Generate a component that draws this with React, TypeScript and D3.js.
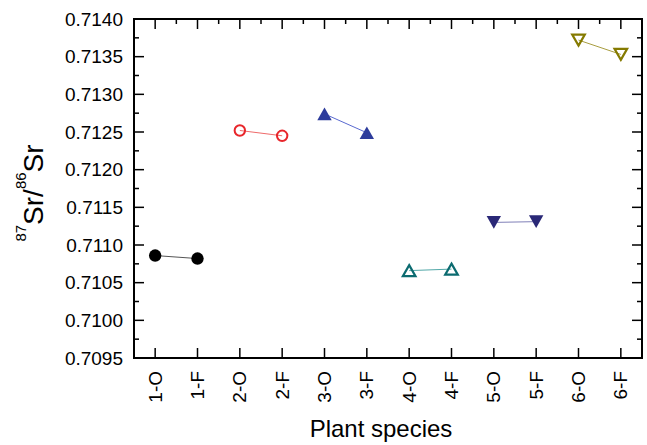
import React from "react";
import * as d3 from "d3";

const categories = ["1-O", "1-F", "2-O", "2-F", "3-O", "3-F", "4-O", "4-F", "5-O", "5-F", "6-O", "6-F"];
const species1 = [0.71086, 0.71082];
const species2 = [0.71252, 0.71245];
const species3 = [0.71274, 0.71249];
const species4 = [0.71066, 0.71068];
const species5 = [0.7113, 0.71131];
const species6 = [0.71372, 0.71353];
const yTicks = [0.7095, 0.71, 0.7105, 0.711, 0.7115, 0.712, 0.7125, 0.713, 0.7135, 0.714];

type Shape = "circle" | "up" | "down";
const seriesDefs: { values: number[]; shape: Shape; filled: boolean; color: string; line: string }[] = [
  { values: species1, shape: "circle", filled: true, color: "#000000", line: "#555555" },
  { values: species2, shape: "circle", filled: false, color: "#e8262b", line: "#ee6a6a" },
  { values: species3, shape: "up", filled: true, color: "#2d3c9c", line: "#5a6ad0" },
  { values: species4, shape: "up", filled: false, color: "#0b6b70", line: "#52a8a8" },
  { values: species5, shape: "down", filled: true, color: "#2a2877", line: "#8080b8" },
  { values: species6, shape: "down", filled: false, color: "#857a00", line: "#a89d40" },
];

const W = 647;
const H = 445;
const L = 134, T = 19, R = 642, B = 358;
const FONT = "Arial, 'Liberation Sans', sans-serif";

export default function App() {
  const x = d3.scaleLinear().domain([0.5, 12.5]).range([L, R]);
  const y = d3.scaleLinear().domain([0.7095, 0.714]).range([B, T]);
  const minorY = d3.range(0, 19).map((i) => 0.7095 + i * 0.00025);
  const catIdx = categories.map((_, i) => i + 1);
  const halfIdx = d3.range(0, 13).map((i) => i + 0.5).filter((v) => v > 0.5 && v < 12.5);
  const line = d3.line<[number, number]>().x((d) => d[0]).y((d) => d[1]);

  const marker = (cx: number, cy: number, shape: Shape, filled: boolean, color: string, key: string) => {
    if (shape === "circle") {
      return filled ? (
        <circle key={key} cx={cx} cy={cy} r={6.2} fill={color} />
      ) : (
        <circle key={key} cx={cx} cy={cy} r={5.2} fill="none" stroke={color} strokeWidth={2} />
      );
    }
    const hw = filled ? 7.2 : 6.3;
    const hh = filled ? 6.3 : 5.5;
    const p = d3.path();
    if (shape === "up") {
      p.moveTo(cx, cy - hh);
      p.lineTo(cx + hw, cy + hh);
      p.lineTo(cx - hw, cy + hh);
    } else {
      p.moveTo(cx, cy + hh);
      p.lineTo(cx + hw, cy - hh);
      p.lineTo(cx - hw, cy - hh);
    }
    p.closePath();
    return filled ? (
      <path key={key} d={p.toString()} fill={color} />
    ) : (
      <path key={key} d={p.toString()} fill="none" stroke={color} strokeWidth={2.2} strokeLinejoin="miter" />
    );
  };

  return (
    <div style={{ position: "absolute", left: 0, top: 0 }}>
      <svg width={W} height={H} style={{ display: "block", background: "#fff" }} fontFamily={FONT}>
        {seriesDefs.map((s, si) => {
          const pts: [number, number][] = s.values.map((v, j) => [x(si * 2 + j + 1), y(v)]);
          return <path key={"l" + si} d={line(pts) || ""} fill="none" stroke={s.line} strokeWidth={1} />;
        })}
        {seriesDefs.map((s, si) =>
          s.values.map((v, j) => marker(x(si * 2 + j + 1), y(v), s.shape, s.filled, s.color, `m${si}-${j}`))
        )}
        <g stroke="#000" strokeWidth={1.5}>
          {minorY.map((v, i) => {
            const major = i % 2 === 0;
            const len = major ? 10 : 5;
            return (
              <g key={"yt" + i}>
                <line x1={L} x2={L + len} y1={y(v)} y2={y(v)} />
                <line x1={R} x2={R - len} y1={y(v)} y2={y(v)} />
              </g>
            );
          })}
          {catIdx.map((c) => (
            <g key={"xt" + c}>
              <line x1={x(c)} x2={x(c)} y1={B} y2={B - 10} />
              <line x1={x(c)} x2={x(c)} y1={T} y2={T + 10} />
            </g>
          ))}
          {halfIdx.map((c) => (
            <line key={"xm" + c} x1={x(c)} x2={x(c)} y1={T} y2={T + 5} />
          ))}
        </g>
        <rect x={L} y={T} width={R - L} height={B - T} fill="none" stroke="#000" strokeWidth={2} />
        {yTicks.map((v) => (
          <text key={"yl" + v} x={L - 11} y={y(v)} textAnchor="end" dominantBaseline="central" fontSize={19} fill="#000">
            {d3.format(".4f")(v)}
          </text>
        ))}
        {categories.map((c, i) => (
          <text
            key={"xl" + c}
            transform={`translate(${x(i + 1)},${B + 13}) rotate(-90)`}
            textAnchor="end"
            dominantBaseline="central"
            fontSize={19}
            fill="#000"
          >
            {c}
          </text>
        ))}
        <text x={381} y={437} textAnchor="middle" fontSize={24} fill="#000">
          Plant species
        </text>
        <text transform={`translate(43,193) rotate(-90)`} textAnchor="middle" fontSize={28} fill="#000">
          <tspan fontSize={15} dy={-17}>87</tspan>
          <tspan dy={17}>Sr/</tspan>
          <tspan fontSize={15} dy={-17}>86</tspan>
          <tspan dy={17}>Sr</tspan>
        </text>
      </svg>
    </div>
  );
}
